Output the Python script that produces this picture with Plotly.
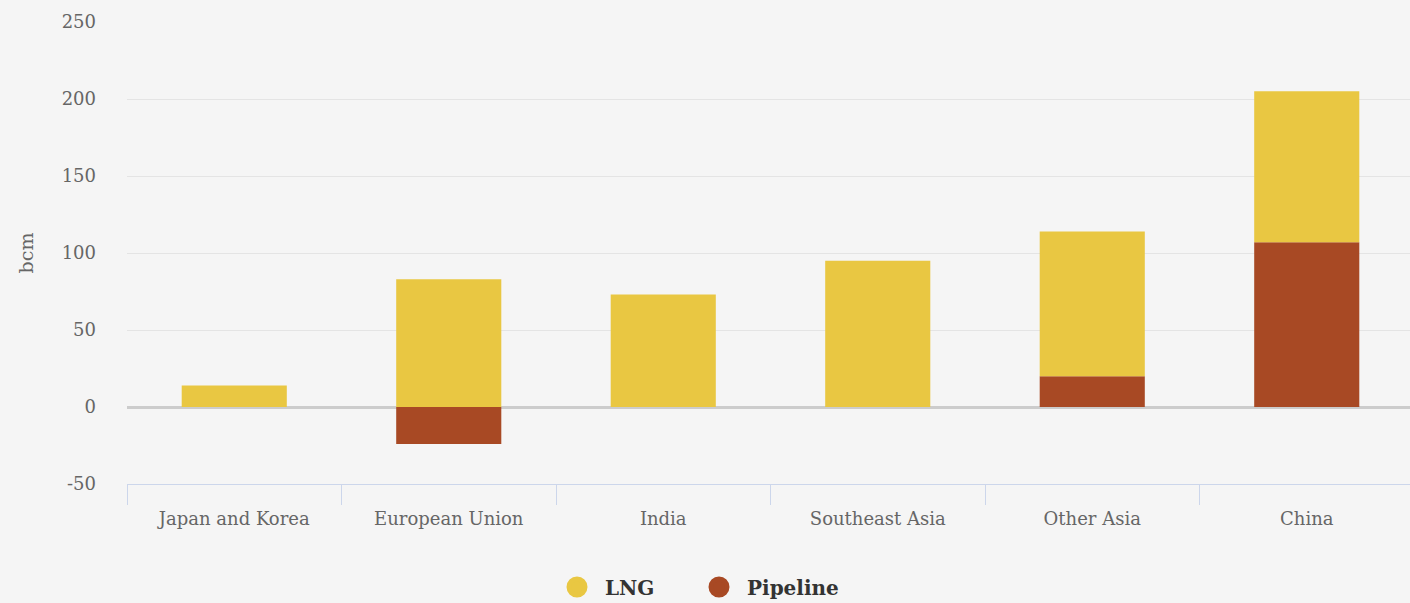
import plotly.graph_objects as go

categories = ["Japan and Korea", "European Union", "India", "Southeast Asia", "Other Asia", "China"]
lng = [14, 83, 73, 95, 94, 98]
pipeline = [0, -24, 0, 0, 20, 107]
y_ticks = [-50, 0, 50, 100, 150, 200, 250]
y_tick_labels = ["-50", "0", "50", "100", "150", "200", "250"]

LNG_COLOR = "#e9c742"
PIPE_COLOR = "#a84924"
FONT = "DejaVu Serif"

fig = go.Figure()
fig.add_trace(go.Bar(x=categories, y=pipeline, name="Pipeline", marker=dict(color=PIPE_COLOR, line=dict(width=0)), showlegend=False))
fig.add_trace(go.Bar(x=categories, y=lng, name="LNG", marker=dict(color=LNG_COLOR, line=dict(width=0)), showlegend=False))
# legend entries with circle symbols
fig.add_trace(go.Scatter(x=[None], y=[None], mode="markers", name="LNG", legend="legend",
                         marker=dict(symbol="circle", size=16, color=LNG_COLOR, line=dict(color=LNG_COLOR, width=5))))
fig.add_trace(go.Scatter(x=[None], y=[None], mode="markers", name="Pipeline", legend="legend2",
                         marker=dict(symbol="circle", size=16, color=PIPE_COLOR, line=dict(color=PIPE_COLOR, width=5))))

W = 1414
legend_style = dict(orientation="h", xref="container", yref="container", xanchor="left",
                    y=16/603, yanchor="middle",
                    font=dict(family=FONT, size=20, color="#333333", weight="bold"),
                    itemwidth=46, bgcolor="rgba(0,0,0,0)")
fig.update_layout(
    width=W, height=603,
    barmode="relative",
    bargap=0.51,
    paper_bgcolor="#f5f5f5",
    plot_bgcolor="#f5f5f5",
    font=dict(family=FONT, size=18, color="#666666"),
    margin=dict(l=127, r=0, t=22, b=119),
    showlegend=True,
    legend=dict(legend_style, x=(579 - 30) / W),
    legend2=dict(legend_style, x=(721 - 30) / W),
    xaxis=dict(type="category", categoryorder="array", categoryarray=categories,
               showline=True, linecolor="#ccd6eb", linewidth=1,
               ticks="outside", tickson="boundaries", ticklen=20, tickcolor="#ccd6eb",
               ticklabelstandoff=18,
               showgrid=False, tickfont=dict(size=18, color="#666666")),
    yaxis=dict(range=[-50, 250], tickvals=y_ticks, ticktext=y_tick_labels,
               showgrid=True, gridcolor="#e4e4e4", gridwidth=1,
               zeroline=True, zerolinecolor="#cccccc", zerolinewidth=3,
               title=dict(text="bcm", font=dict(size=19, color="#666666"), standoff=22),
               tickfont=dict(size=18, color="#666666"), ticklabelstandoff=30),
)

fig.write_html("out.html", config={"displayModeBar": False},
               post_script="document.body.style.margin='0';document.body.style.overflow='hidden';")
